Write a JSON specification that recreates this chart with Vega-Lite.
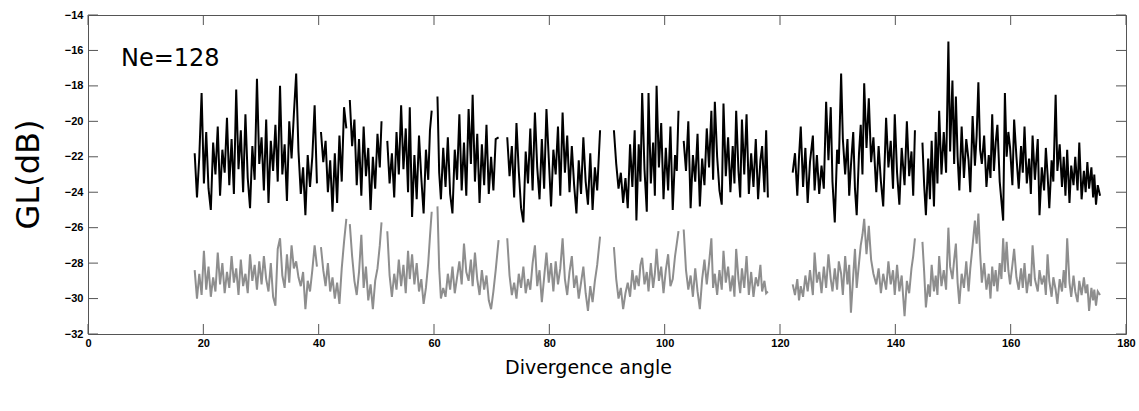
{
  "$schema": "https://vega.github.io/schema/vega-lite/v6.json",
  "width": 1038,
  "height": 319,
  "autosize": {"type": "none"},
  "padding": {"left": 88, "top": 15, "right": 13, "bottom": 77},
  "background": "white",
  "config": {
    "view": {"stroke": "#555555", "strokeWidth": 1},
    "axis": {
      "domain": false,
      "ticks": false,
      "grid": false,
      "labelFont": "Liberation Sans",
      "labelFontWeight": "bold",
      "labelFontSize": 11,
      "labelColor": "#000000",
      "titleFont": "DejaVu Sans",
      "titleFontWeight": "normal",
      "titleColor": "#000000"
    }
  },
  "resolve": {"axis": {"x": "independent", "y": "independent"}},
  "datasets": {
    "xticks": [{"t":0},{"t":20},{"t":40},{"t":60},{"t":80},{"t":100},{"t":120},{"t":140},{"t":160},{"t":180}],
    "yticks": [{"t":-32},{"t":-30},{"t":-28},{"t":-26},{"t":-24},{"t":-22},{"t":-20},{"t":-18},{"t":-16},{"t":-14}]
  },
  "layer": [
    {
      "data": {"name": "xticks"},
      "mark": {"type": "tick", "orient": "vertical", "size": 10, "thickness": 1, "yOffset": -5, "color": "#555555", "opacity": 1},
      "encoding": {
        "x": {"field": "t", "type": "quantitative", "scale": {"domain": [0, 180], "nice": false}, "axis": null},
        "y": {"datum": -32, "type": "quantitative", "scale": {"domain": [-32, -14], "nice": false, "zero": false}, "axis": null}
      }
    },
    {
      "data": {"name": "xticks"},
      "mark": {"type": "tick", "orient": "vertical", "size": 10, "thickness": 1, "yOffset": 5, "color": "#555555", "opacity": 1},
      "encoding": {
        "x": {"field": "t", "type": "quantitative", "axis": null},
        "y": {"datum": -14, "type": "quantitative", "axis": null}
      }
    },
    {
      "data": {"name": "yticks"},
      "mark": {"type": "tick", "orient": "horizontal", "size": 10, "thickness": 1, "xOffset": 5, "color": "#555555", "opacity": 1},
      "encoding": {
        "y": {"field": "t", "type": "quantitative", "axis": null},
        "x": {"datum": 0, "type": "quantitative", "axis": null}
      }
    },
    {
      "data": {"name": "yticks"},
      "mark": {"type": "tick", "orient": "horizontal", "size": 10, "thickness": 1, "xOffset": -5, "color": "#555555", "opacity": 1},
      "encoding": {
        "y": {"field": "t", "type": "quantitative", "axis": null},
        "x": {"datum": 180, "type": "quantitative", "axis": null}
      }
    },
    {
      "data": {"values": [
        {"a":18.5,"s":1,"b":-21.8,"g":-28.4},{"a":18.9,"s":1,"b":-24.3,"g":-30.0},{"a":19.3,"s":1,"b":-22.0,"g":-28.6},{"a":19.7,"s":1,"b":-18.4,"g":-29.8},{"a":20.1,"s":1,"b":-23.5,"g":-27.3},{"a":20.5,"s":1,"b":-20.6,"g":-29.5},{"a":20.9,"s":1,"b":-23.8,"g":-28.2},{"a":21.3,"s":1,"b":-25.0,"g":-29.9},{"a":21.7,"s":1,"b":-21.2,"g":-28.8},{"a":22.1,"s":1,"b":-23.0,"g":-29.6},{"a":22.5,"s":1,"b":-20.3,"g":-27.4},{"a":22.9,"s":1,"b":-24.2,"g":-29.2},{"a":23.3,"s":1,"b":-21.6,"g":-28.0},{"a":23.7,"s":1,"b":-22.9,"g":-29.7},{"a":24.1,"s":1,"b":-19.8,"g":-28.5},{"a":24.5,"s":1,"b":-23.6,"g":-29.4},{"a":24.9,"s":1,"b":-21.0,"g":-27.6},{"a":25.3,"s":1,"b":-24.1,"g":-29.1},{"a":25.7,"s":1,"b":-18.2,"g":-28.3},{"a":26.1,"s":1,"b":-22.7,"g":-29.8},{"a":26.5,"s":1,"b":-20.5,"g":-27.8},{"a":26.9,"s":1,"b":-24.0,"g":-29.3},{"a":27.3,"s":1,"b":-19.6,"g":-28.6},{"a":27.7,"s":1,"b":-23.2,"g":-29.7},{"a":28.1,"s":1,"b":-24.9,"g":-27.5},{"a":28.5,"s":1,"b":-21.4,"g":-29.0},{"a":28.9,"s":1,"b":-23.3,"g":-28.1},{"a":29.3,"s":1,"b":-17.6,"g":-29.5},{"a":29.7,"s":1,"b":-22.4,"g":-27.9},{"a":30.1,"s":1,"b":-20.9,"g":-29.2},{"a":30.5,"s":1,"b":-23.9,"g":-27.6},{"a":30.9,"s":1,"b":-19.9,"g":-28.9},{"a":31.3,"s":1,"b":-24.6,"g":-29.6},{"a":31.7,"s":1,"b":-21.1,"g":-28.0},{"a":32.1,"s":1,"b":-22.8,"g":-29.9},{"a":32.5,"s":1,"b":-20.2,"g":-30.4},{"a":32.9,"s":1,"b":-23.4,"g":-27.2},{"a":33.3,"s":1,"b":-18.0,"g":-26.6},{"a":33.7,"s":1,"b":-23.0,"g":-28.7},{"a":34.1,"s":1,"b":-21.3,"g":-29.4},{"a":34.5,"s":1,"b":-24.5,"g":-27.5},{"a":34.9,"s":1,"b":-20.0,"g":-29.1},{"a":35.3,"s":1,"b":-22.1,"g":-27.0},{"a":35.7,"s":1,"b":-19.6,"g":-28.3},{"a":36.1,"s":1,"b":-17.3,"g":-27.9},{"a":36.5,"s":1,"b":-21.7,"g":-28.8},{"a":36.9,"s":1,"b":-24.1,"g":-29.3},{"a":37.3,"s":1,"b":-22.6,"g":-28.5},{"a":37.7,"s":1,"b":-25.3,"g":-30.6},{"a":38.1,"s":1,"b":-21.9,"g":-29.0},{"a":38.5,"s":1,"b":-23.7,"g":-29.6},{"a":38.9,"s":1,"b":-22.0,"g":-28.4},{"a":39.3,"s":1,"b":-19.1,"g":-27.0},{"a":39.7,"s":1,"b":-23.5,"g":-28.2},
        {"a":40.4,"s":2,"b":-20.6,"g":-27.1},{"a":40.8,"s":2,"b":-22.3,"g":-28.4},{"a":41.2,"s":2,"b":-21.1,"g":-29.3},{"a":41.6,"s":2,"b":-24.0,"g":-28.0},{"a":42.0,"s":2,"b":-22.2,"g":-29.6},{"a":42.4,"s":2,"b":-25.1,"g":-28.8},{"a":42.8,"s":2,"b":-21.8,"g":-30.0},{"a":43.2,"s":2,"b":-24.6,"g":-29.1},{"a":43.6,"s":2,"b":-20.8,"g":-30.3},{"a":44.0,"s":2,"b":-23.4,"g":-28.3},{"a":44.4,"s":2,"b":-19.2,"g":-26.8},{"a":44.8,"s":2,"b":-20.4,"g":-25.5},
        {"a":45.4,"s":3,"b":-18.8,"g":-25.8},{"a":45.8,"s":3,"b":-21.4,"g":-27.6},{"a":46.2,"s":3,"b":-19.9,"g":-29.0},{"a":46.6,"s":3,"b":-23.6,"g":-29.8},{"a":47.0,"s":3,"b":-21.0,"g":-28.5},{"a":47.4,"s":3,"b":-24.2,"g":-26.4},{"a":47.8,"s":3,"b":-20.3,"g":-29.4},{"a":48.2,"s":3,"b":-23.1,"g":-28.2},{"a":48.6,"s":3,"b":-21.5,"g":-30.1},{"a":49.0,"s":3,"b":-25.0,"g":-29.2},{"a":49.4,"s":3,"b":-22.0,"g":-30.6},{"a":49.8,"s":3,"b":-23.8,"g":-29.0},{"a":50.2,"s":3,"b":-20.7,"g":-28.3},{"a":50.6,"s":3,"b":-22.6,"g":-27.0},{"a":50.9,"s":3,"b":-20.0,"g":-25.7},
        {"a":51.9,"s":4,"b":-21.1,"g":-26.2},{"a":52.3,"s":4,"b":-23.5,"g":-28.7},{"a":52.7,"s":4,"b":-21.8,"g":-29.9},{"a":53.1,"s":4,"b":-24.3,"g":-28.6},{"a":53.5,"s":4,"b":-20.6,"g":-29.5},{"a":53.9,"s":4,"b":-23.0,"g":-27.8},{"a":54.3,"s":4,"b":-19.1,"g":-29.3},{"a":54.7,"s":4,"b":-22.7,"g":-28.1},{"a":55.1,"s":4,"b":-20.4,"g":-29.7},{"a":55.5,"s":4,"b":-24.0,"g":-27.3},{"a":55.8,"s":4,"b":-19.2,"g":-28.9},{"a":56.2,"s":4,"b":-25.4,"g":-27.5},{"a":56.6,"s":4,"b":-21.9,"g":-29.2},{"a":57.0,"s":4,"b":-24.4,"g":-28.0},{"a":57.4,"s":4,"b":-20.8,"g":-29.6},{"a":57.8,"s":4,"b":-23.2,"g":-28.9},{"a":58.2,"s":4,"b":-25.2,"g":-30.3},{"a":58.6,"s":4,"b":-21.6,"g":-29.4},{"a":59.0,"s":4,"b":-23.3,"g":-28.0},{"a":59.3,"s":4,"b":-20.5,"g":-26.5},{"a":59.6,"s":4,"b":-19.4,"g":-25.1},
        {"a":60.6,"s":5,"b":-18.6,"g":-24.8},{"a":60.9,"s":5,"b":-22.9,"g":-28.3},{"a":61.2,"s":5,"b":-24.4,"g":-30.0},{"a":61.6,"s":5,"b":-21.5,"g":-29.4},{"a":62.0,"s":5,"b":-23.7,"g":-29.9},{"a":62.4,"s":5,"b":-20.9,"g":-28.6},{"a":62.8,"s":5,"b":-24.1,"g":-29.5},{"a":63.2,"s":5,"b":-25.2,"g":-28.2},{"a":63.6,"s":5,"b":-21.6,"g":-29.7},{"a":64.0,"s":5,"b":-23.3,"g":-28.8},{"a":64.4,"s":5,"b":-19.6,"g":-27.9},{"a":64.8,"s":5,"b":-23.9,"g":-29.2},{"a":65.2,"s":5,"b":-21.2,"g":-26.9},{"a":65.6,"s":5,"b":-24.2,"g":-28.5},{"a":66.0,"s":5,"b":-19.3,"g":-29.0},{"a":66.4,"s":5,"b":-22.4,"g":-27.8},{"a":66.7,"s":5,"b":-18.5,"g":-29.3},{"a":67.1,"s":5,"b":-23.4,"g":-27.4},{"a":67.5,"s":5,"b":-20.7,"g":-28.9},{"a":67.9,"s":5,"b":-24.6,"g":-29.8},{"a":68.3,"s":5,"b":-21.3,"g":-28.4},{"a":68.7,"s":5,"b":-23.6,"g":-29.5},{"a":69.1,"s":5,"b":-20.2,"g":-28.7},{"a":69.5,"s":5,"b":-24.1,"g":-30.1},{"a":69.9,"s":5,"b":-22.0,"g":-30.6},{"a":70.3,"s":5,"b":-23.9,"g":-29.6},{"a":70.7,"s":5,"b":-21.0,"g":-28.4},{"a":71.2,"s":5,"b":-20.9,"g":-26.7},
        {"a":72.7,"s":6,"b":-20.9,"g":-26.6},{"a":73.1,"s":6,"b":-23.1,"g":-28.7},{"a":73.5,"s":6,"b":-21.4,"g":-29.8},{"a":73.9,"s":6,"b":-24.3,"g":-29.1},{"a":74.3,"s":6,"b":-20.1,"g":-30.0},{"a":74.7,"s":6,"b":-22.8,"g":-28.6},{"a":75.1,"s":6,"b":-24.9,"g":-29.4},{"a":75.5,"s":6,"b":-25.7,"g":-28.2},{"a":75.9,"s":6,"b":-21.7,"g":-29.7},{"a":76.3,"s":6,"b":-23.5,"g":-28.9},{"a":76.7,"s":6,"b":-20.4,"g":-29.5},{"a":77.1,"s":6,"b":-23.9,"g":-28.0},{"a":77.5,"s":6,"b":-19.5,"g":-27.0},{"a":77.9,"s":6,"b":-22.6,"g":-29.3},{"a":78.3,"s":6,"b":-24.4,"g":-28.4},{"a":78.7,"s":6,"b":-21.0,"g":-30.2},{"a":79.1,"s":6,"b":-23.8,"g":-28.8},{"a":79.5,"s":6,"b":-19.3,"g":-27.4},{"a":79.9,"s":6,"b":-22.1,"g":-29.1},{"a":80.3,"s":6,"b":-24.8,"g":-28.0},{"a":80.7,"s":6,"b":-21.6,"g":-29.6},{"a":81.1,"s":6,"b":-23.0,"g":-27.9},{"a":81.5,"s":6,"b":-20.3,"g":-29.2},{"a":81.9,"s":6,"b":-24.2,"g":-28.3},{"a":82.3,"s":6,"b":-19.5,"g":-26.6},{"a":82.7,"s":6,"b":-22.9,"g":-28.9},{"a":83.1,"s":6,"b":-20.8,"g":-29.8},{"a":83.5,"s":6,"b":-24.0,"g":-28.5},{"a":83.9,"s":6,"b":-21.4,"g":-27.6},{"a":84.3,"s":6,"b":-23.6,"g":-29.4},{"a":84.7,"s":6,"b":-25.2,"g":-28.7},{"a":85.1,"s":6,"b":-22.2,"g":-30.0},{"a":85.5,"s":6,"b":-24.1,"g":-29.1},{"a":85.9,"s":6,"b":-20.9,"g":-28.2},{"a":86.3,"s":6,"b":-23.4,"g":-29.7},{"a":86.7,"s":6,"b":-24.7,"g":-30.7},{"a":87.1,"s":6,"b":-21.8,"g":-29.3},{"a":87.5,"s":6,"b":-25.0,"g":-30.2},{"a":87.9,"s":6,"b":-22.6,"g":-29.0},{"a":88.3,"s":6,"b":-23.9,"g":-28.1},{"a":88.8,"s":6,"b":-20.5,"g":-26.5},
        {"a":91.2,"s":7,"b":-20.5,"g":-27.1},{"a":91.6,"s":7,"b":-22.4,"g":-28.9},{"a":92.0,"s":7,"b":-23.8,"g":-30.0},{"a":92.4,"s":7,"b":-22.9,"g":-29.4},{"a":92.8,"s":7,"b":-24.6,"g":-30.6},{"a":93.2,"s":7,"b":-23.2,"g":-29.7},{"a":93.6,"s":7,"b":-24.9,"g":-29.1},{"a":94.0,"s":7,"b":-21.3,"g":-29.9},{"a":94.4,"s":7,"b":-23.7,"g":-28.4},{"a":94.8,"s":7,"b":-20.5,"g":-29.5},{"a":95.1,"s":7,"b":-25.6,"g":-28.7},{"a":95.5,"s":7,"b":-21.3,"g":-29.3},{"a":95.8,"s":7,"b":-23.4,"g":-28.1},{"a":96.1,"s":7,"b":-18.4,"g":-27.7},{"a":96.5,"s":7,"b":-22.7,"g":-29.2},{"a":96.9,"s":7,"b":-25.1,"g":-28.5},{"a":97.2,"s":7,"b":-18.4,"g":-29.6},{"a":97.6,"s":7,"b":-23.5,"g":-28.0},{"a":98.0,"s":7,"b":-21.2,"g":-29.4},{"a":98.3,"s":7,"b":-24.2,"g":-28.6},{"a":98.6,"s":7,"b":-18.0,"g":-27.2},{"a":99.0,"s":7,"b":-22.6,"g":-29.0},{"a":99.4,"s":7,"b":-20.1,"g":-28.2},{"a":99.8,"s":7,"b":-24.4,"g":-29.7},{"a":100.2,"s":7,"b":-21.5,"g":-28.4},{"a":100.6,"s":7,"b":-23.9,"g":-27.5},{"a":101.0,"s":7,"b":-20.3,"g":-29.3},{"a":101.4,"s":7,"b":-25.0,"g":-28.9},{"a":101.8,"s":7,"b":-21.9,"g":-27.6},{"a":102.1,"s":7,"b":-22.8,"g":-26.9},{"a":102.4,"s":7,"b":-19.4,"g":-26.2},
        {"a":103.3,"s":8,"b":-21.1,"g":-26.1},{"a":103.7,"s":8,"b":-22.8,"g":-28.4},{"a":104.1,"s":8,"b":-20.0,"g":-29.5},{"a":104.5,"s":8,"b":-24.9,"g":-28.7},{"a":104.9,"s":8,"b":-21.9,"g":-29.9},{"a":105.3,"s":8,"b":-23.4,"g":-28.3},{"a":105.7,"s":8,"b":-20.7,"g":-29.6},{"a":106.1,"s":8,"b":-24.8,"g":-30.6},{"a":106.5,"s":8,"b":-22.1,"g":-28.9},{"a":106.9,"s":8,"b":-23.6,"g":-27.8},{"a":107.3,"s":8,"b":-20.4,"g":-29.2},{"a":107.7,"s":8,"b":-22.6,"g":-28.0},{"a":108.1,"s":8,"b":-19.4,"g":-26.6},{"a":108.4,"s":8,"b":-23.3,"g":-29.4},{"a":108.7,"s":8,"b":-18.9,"g":-28.6},{"a":109.1,"s":8,"b":-22.0,"g":-29.8},{"a":109.5,"s":8,"b":-23.9,"g":-28.4},{"a":109.9,"s":8,"b":-24.7,"g":-29.5},{"a":110.2,"s":8,"b":-19.0,"g":-27.3},{"a":110.6,"s":8,"b":-23.1,"g":-29.1},{"a":111.0,"s":8,"b":-20.9,"g":-28.2},{"a":111.4,"s":8,"b":-24.0,"g":-29.6},{"a":111.8,"s":8,"b":-21.4,"g":-28.7},{"a":112.1,"s":8,"b":-23.5,"g":-29.9},{"a":112.4,"s":8,"b":-19.4,"g":-27.2},{"a":112.8,"s":8,"b":-22.8,"g":-28.9},{"a":113.1,"s":8,"b":-24.3,"g":-29.7},{"a":113.4,"s":8,"b":-19.9,"g":-28.3},{"a":113.8,"s":8,"b":-23.0,"g":-29.4},{"a":114.2,"s":8,"b":-19.6,"g":-27.6},{"a":114.6,"s":8,"b":-24.1,"g":-29.8},{"a":115.0,"s":8,"b":-21.8,"g":-28.5},{"a":115.4,"s":8,"b":-23.7,"g":-29.9},{"a":115.8,"s":8,"b":-21.0,"g":-28.8},{"a":116.2,"s":8,"b":-24.4,"g":-29.3},{"a":116.6,"s":8,"b":-22.2,"g":-28.1},{"a":116.9,"s":8,"b":-21.4,"g":-29.6},{"a":117.3,"s":8,"b":-24.0,"g":-29.0},{"a":117.6,"s":8,"b":-20.5,"g":-29.7},{"a":117.9,"s":8,"b":-24.3,"g":-29.6},
        {"a":122.2,"s":9,"b":-22.9,"g":-29.2},{"a":122.6,"s":9,"b":-21.8,"g":-29.8},{"a":123.0,"s":9,"b":-24.2,"g":-28.9},{"a":123.3,"s":9,"b":-22.0,"g":-30.1},{"a":123.6,"s":9,"b":-20.3,"g":-29.3},{"a":124.0,"s":9,"b":-23.7,"g":-29.9},{"a":124.4,"s":9,"b":-21.5,"g":-28.7},{"a":124.8,"s":9,"b":-24.6,"g":-29.6},{"a":125.2,"s":9,"b":-22.3,"g":-28.4},{"a":125.7,"s":9,"b":-20.8,"g":-29.8},{"a":126.0,"s":9,"b":-23.9,"g":-27.4},{"a":126.4,"s":9,"b":-21.9,"g":-29.1},{"a":126.8,"s":9,"b":-24.1,"g":-28.5},{"a":127.2,"s":9,"b":-22.5,"g":-29.7},{"a":127.6,"s":9,"b":-23.8,"g":-28.2},{"a":128.0,"s":9,"b":-18.9,"g":-29.4},{"a":128.4,"s":9,"b":-22.2,"g":-27.5},{"a":128.8,"s":9,"b":-19.2,"g":-28.9},{"a":129.1,"s":9,"b":-23.4,"g":-29.6},{"a":129.5,"s":9,"b":-25.7,"g":-28.3},{"a":129.9,"s":9,"b":-21.6,"g":-29.5},{"a":130.2,"s":9,"b":-22.4,"g":-27.9},{"a":130.6,"s":9,"b":-17.3,"g":-28.6},{"a":130.9,"s":9,"b":-21.0,"g":-29.8},{"a":131.3,"s":9,"b":-23.0,"g":-27.6},{"a":131.7,"s":9,"b":-21.0,"g":-29.2},{"a":132.0,"s":9,"b":-24.2,"g":-28.1},{"a":132.3,"s":9,"b":-22.5,"g":-30.8},{"a":132.7,"s":9,"b":-20.6,"g":-28.7},{"a":133.0,"s":9,"b":-23.8,"g":-27.2},{"a":133.3,"s":9,"b":-25.3,"g":-29.4},{"a":133.7,"s":9,"b":-21.8,"g":-28.0},{"a":134.0,"s":9,"b":-20.2,"g":-27.0},{"a":134.3,"s":9,"b":-23.0,"g":-26.4},{"a":134.6,"s":9,"b":-17.85,"g":-25.5},{"a":135.0,"s":9,"b":-21.5,"g":-27.5},{"a":135.4,"s":9,"b":-18.7,"g":-25.9},{"a":135.8,"s":9,"b":-22.3,"g":-27.8},{"a":136.2,"s":9,"b":-20.9,"g":-28.6},{"a":136.7,"s":9,"b":-24.0,"g":-29.2},{"a":137.1,"s":9,"b":-21.4,"g":-28.3},{"a":137.5,"s":9,"b":-23.4,"g":-29.7},{"a":137.9,"s":9,"b":-24.8,"g":-28.6},{"a":138.4,"s":9,"b":-19.8,"g":-29.5},{"a":138.8,"s":9,"b":-22.6,"g":-27.9},{"a":139.2,"s":9,"b":-21.1,"g":-29.2},{"a":139.6,"s":9,"b":-23.8,"g":-28.4},{"a":139.9,"s":9,"b":-19.6,"g":-29.8},{"a":140.3,"s":9,"b":-22.9,"g":-28.1},{"a":140.7,"s":9,"b":-24.7,"g":-29.6},{"a":141.1,"s":9,"b":-21.5,"g":-28.7},{"a":141.6,"s":9,"b":-23.6,"g":-31.0},{"a":142.0,"s":9,"b":-20.0,"g":-29.0},{"a":142.4,"s":9,"b":-23.1,"g":-29.7},{"a":142.8,"s":9,"b":-21.7,"g":-28.3},{"a":143.1,"s":9,"b":-24.2,"g":-27.6},{"a":143.4,"s":9,"b":-20.5,"g":-26.6},
        {"a":144.7,"s":10,"b":-21.2,"g":-26.8},{"a":145.0,"s":10,"b":-23.6,"g":-28.5},{"a":145.3,"s":10,"b":-25.3,"g":-30.5},{"a":145.7,"s":10,"b":-22.1,"g":-29.2},{"a":146.0,"s":10,"b":-24.4,"g":-29.9},{"a":146.3,"s":10,"b":-21.1,"g":-28.1},{"a":146.7,"s":10,"b":-24.8,"g":-29.6},{"a":147.0,"s":10,"b":-20.6,"g":-28.7},{"a":147.3,"s":10,"b":-23.5,"g":-29.8},{"a":147.6,"s":10,"b":-19.4,"g":-27.6},{"a":148.0,"s":10,"b":-23.0,"g":-29.3},{"a":148.4,"s":10,"b":-20.6,"g":-28.4},{"a":148.8,"s":10,"b":-22.9,"g":-29.5},{"a":149.2,"s":10,"b":-15.5,"g":-26.0},{"a":149.5,"s":10,"b":-21.7,"g":-28.2},{"a":149.9,"s":10,"b":-17.7,"g":-28.9},{"a":150.2,"s":10,"b":-22.4,"g":-27.8},{"a":150.5,"s":10,"b":-18.6,"g":-26.9},{"a":150.8,"s":10,"b":-22.0,"g":-29.1},{"a":151.1,"s":10,"b":-23.9,"g":-30.3},{"a":151.5,"s":10,"b":-20.3,"g":-28.6},{"a":151.9,"s":10,"b":-23.2,"g":-29.4},{"a":152.3,"s":10,"b":-21.0,"g":-27.9},{"a":152.7,"s":10,"b":-22.2,"g":-29.6},{"a":153.0,"s":10,"b":-24.0,"g":-28.3},{"a":153.4,"s":10,"b":-19.7,"g":-27.0},{"a":153.8,"s":10,"b":-22.5,"g":-25.6},{"a":154.1,"s":10,"b":-20.8,"g":-26.9},{"a":154.4,"s":10,"b":-17.8,"g":-25.2},{"a":154.7,"s":10,"b":-21.6,"g":-27.4},{"a":155.0,"s":10,"b":-22.4,"g":-29.1},{"a":155.4,"s":10,"b":-20.8,"g":-28.0},{"a":155.8,"s":10,"b":-23.7,"g":-29.5},{"a":156.2,"s":10,"b":-21.9,"g":-28.6},{"a":156.5,"s":10,"b":-23.2,"g":-30.0},{"a":156.8,"s":10,"b":-19.6,"g":-28.2},{"a":157.1,"s":10,"b":-22.8,"g":-29.3},{"a":157.4,"s":10,"b":-21.2,"g":-28.4},{"a":157.7,"s":10,"b":-20.2,"g":-29.6},{"a":158.1,"s":10,"b":-23.4,"g":-28.0},{"a":158.4,"s":10,"b":-24.5,"g":-28.9},{"a":158.7,"s":10,"b":-25.6,"g":-26.6},{"a":159.0,"s":10,"b":-18.4,"g":-28.5},{"a":159.3,"s":10,"b":-22.0,"g":-26.8},{"a":159.6,"s":10,"b":-20.6,"g":-28.4},{"a":159.9,"s":10,"b":-21.5,"g":-29.2},{"a":160.3,"s":10,"b":-23.6,"g":-28.1},{"a":160.6,"s":10,"b":-19.9,"g":-27.2},{"a":161.0,"s":10,"b":-22.0,"g":-28.8},{"a":161.4,"s":10,"b":-23.8,"g":-29.5},{"a":161.8,"s":10,"b":-21.4,"g":-28.3},{"a":162.1,"s":10,"b":-22.9,"g":-29.4},{"a":162.4,"s":10,"b":-20.3,"g":-28.0},{"a":162.8,"s":10,"b":-23.5,"g":-29.7},{"a":163.2,"s":10,"b":-22.1,"g":-28.6},{"a":163.5,"s":10,"b":-24.1,"g":-29.3},{"a":163.8,"s":10,"b":-20.8,"g":-27.0},{"a":164.2,"s":10,"b":-23.3,"g":-28.9},{"a":164.7,"s":10,"b":-21.0,"g":-29.6},{"a":165.0,"s":10,"b":-25.3,"g":-28.4},{"a":165.4,"s":10,"b":-22.6,"g":-29.2},{"a":165.8,"s":10,"b":-23.9,"g":-28.7},{"a":166.1,"s":10,"b":-21.5,"g":-29.8},{"a":166.4,"s":10,"b":-23.0,"g":-27.5},{"a":166.7,"s":10,"b":-24.9,"g":-29.0},{"a":167.1,"s":10,"b":-22.2,"g":-29.9},{"a":167.4,"s":10,"b":-23.4,"g":-28.8},{"a":167.8,"s":10,"b":-18.5,"g":-29.5},{"a":168.1,"s":10,"b":-22.8,"g":-30.3},{"a":168.5,"s":10,"b":-21.3,"g":-28.9},{"a":168.9,"s":10,"b":-23.7,"g":-29.6},{"a":169.2,"s":10,"b":-22.0,"g":-28.4},{"a":169.5,"s":10,"b":-24.2,"g":-29.4},{"a":169.8,"s":10,"b":-21.6,"g":-26.6},{"a":170.2,"s":10,"b":-24.6,"g":-29.1},{"a":170.5,"s":10,"b":-22.5,"g":-29.9},{"a":170.9,"s":10,"b":-23.6,"g":-28.7},{"a":171.2,"s":10,"b":-22.0,"g":-29.6},{"a":171.6,"s":10,"b":-23.9,"g":-30.2},{"a":171.9,"s":10,"b":-21.2,"g":-29.0},{"a":172.3,"s":10,"b":-24.4,"g":-29.8},{"a":172.7,"s":10,"b":-22.8,"g":-28.8},{"a":173.0,"s":10,"b":-24.0,"g":-29.7},{"a":173.3,"s":10,"b":-22.3,"g":-29.2},{"a":173.6,"s":10,"b":-23.8,"g":-30.7},{"a":174.0,"s":10,"b":-22.6,"g":-29.4},{"a":174.3,"s":10,"b":-24.3,"g":-30.1},{"a":174.5,"s":10,"b":-23.0,"g":-29.5},{"a":174.8,"s":10,"b":-24.7,"g":-30.4},{"a":175.1,"s":10,"b":-23.6,"g":-29.6},{"a":175.5,"s":10,"b":-24.2,"g":-29.8}
      ]},
      "transform": [{"fold": ["b", "g"], "as": ["series", "value"]}],
      "mark": {"type": "line", "strokeWidth": 2, "strokeJoin": "miter", "clip": true},
      "encoding": {
        "x": {
          "field": "a", "type": "quantitative",
          "axis": {"orient": "bottom", "values": [0, 20, 40, 60, 80, 100, 120, 140, 160, 180], "title": "Divergence angle", "titleFontSize": 19, "labelPadding": 3, "titleX": 500, "titleY": 39, "titleBaseline": "alphabetic", "labelFlush": false, "labelOverlap": false}
        },
        "y": {
          "field": "value", "type": "quantitative",
          "axis": {"orient": "left", "values": [-32, -30, -28, -26, -24, -22, -20, -18, -16, -14], "title": "GL(dB)", "titleFontSize": 32, "labelPadding": 5, "titleX": -60, "titleY": 159, "titleAngle": -90, "titleBaseline": "middle", "titleAlign": "center", "labelFlush": false, "labelOverlap": false}
        },
        "color": {"field": "series", "type": "nominal", "scale": {"domain": ["b", "g"], "range": ["#000000", "#8e8e8e"]}, "legend": null},
        "detail": {"field": "s", "type": "nominal"}
      }
    },
    {
      "data": {"values": [{"a": 5.72, "v": -16.88, "t": "Ne=128"}]},
      "mark": {"type": "text", "font": "DejaVu Sans", "fontSize": 24, "align": "left", "baseline": "alphabetic", "color": "#000000"},
      "encoding": {
        "x": {"field": "a", "type": "quantitative", "axis": null},
        "y": {"field": "v", "type": "quantitative", "axis": null},
        "text": {"field": "t"}
      }
    }
  ]
}
